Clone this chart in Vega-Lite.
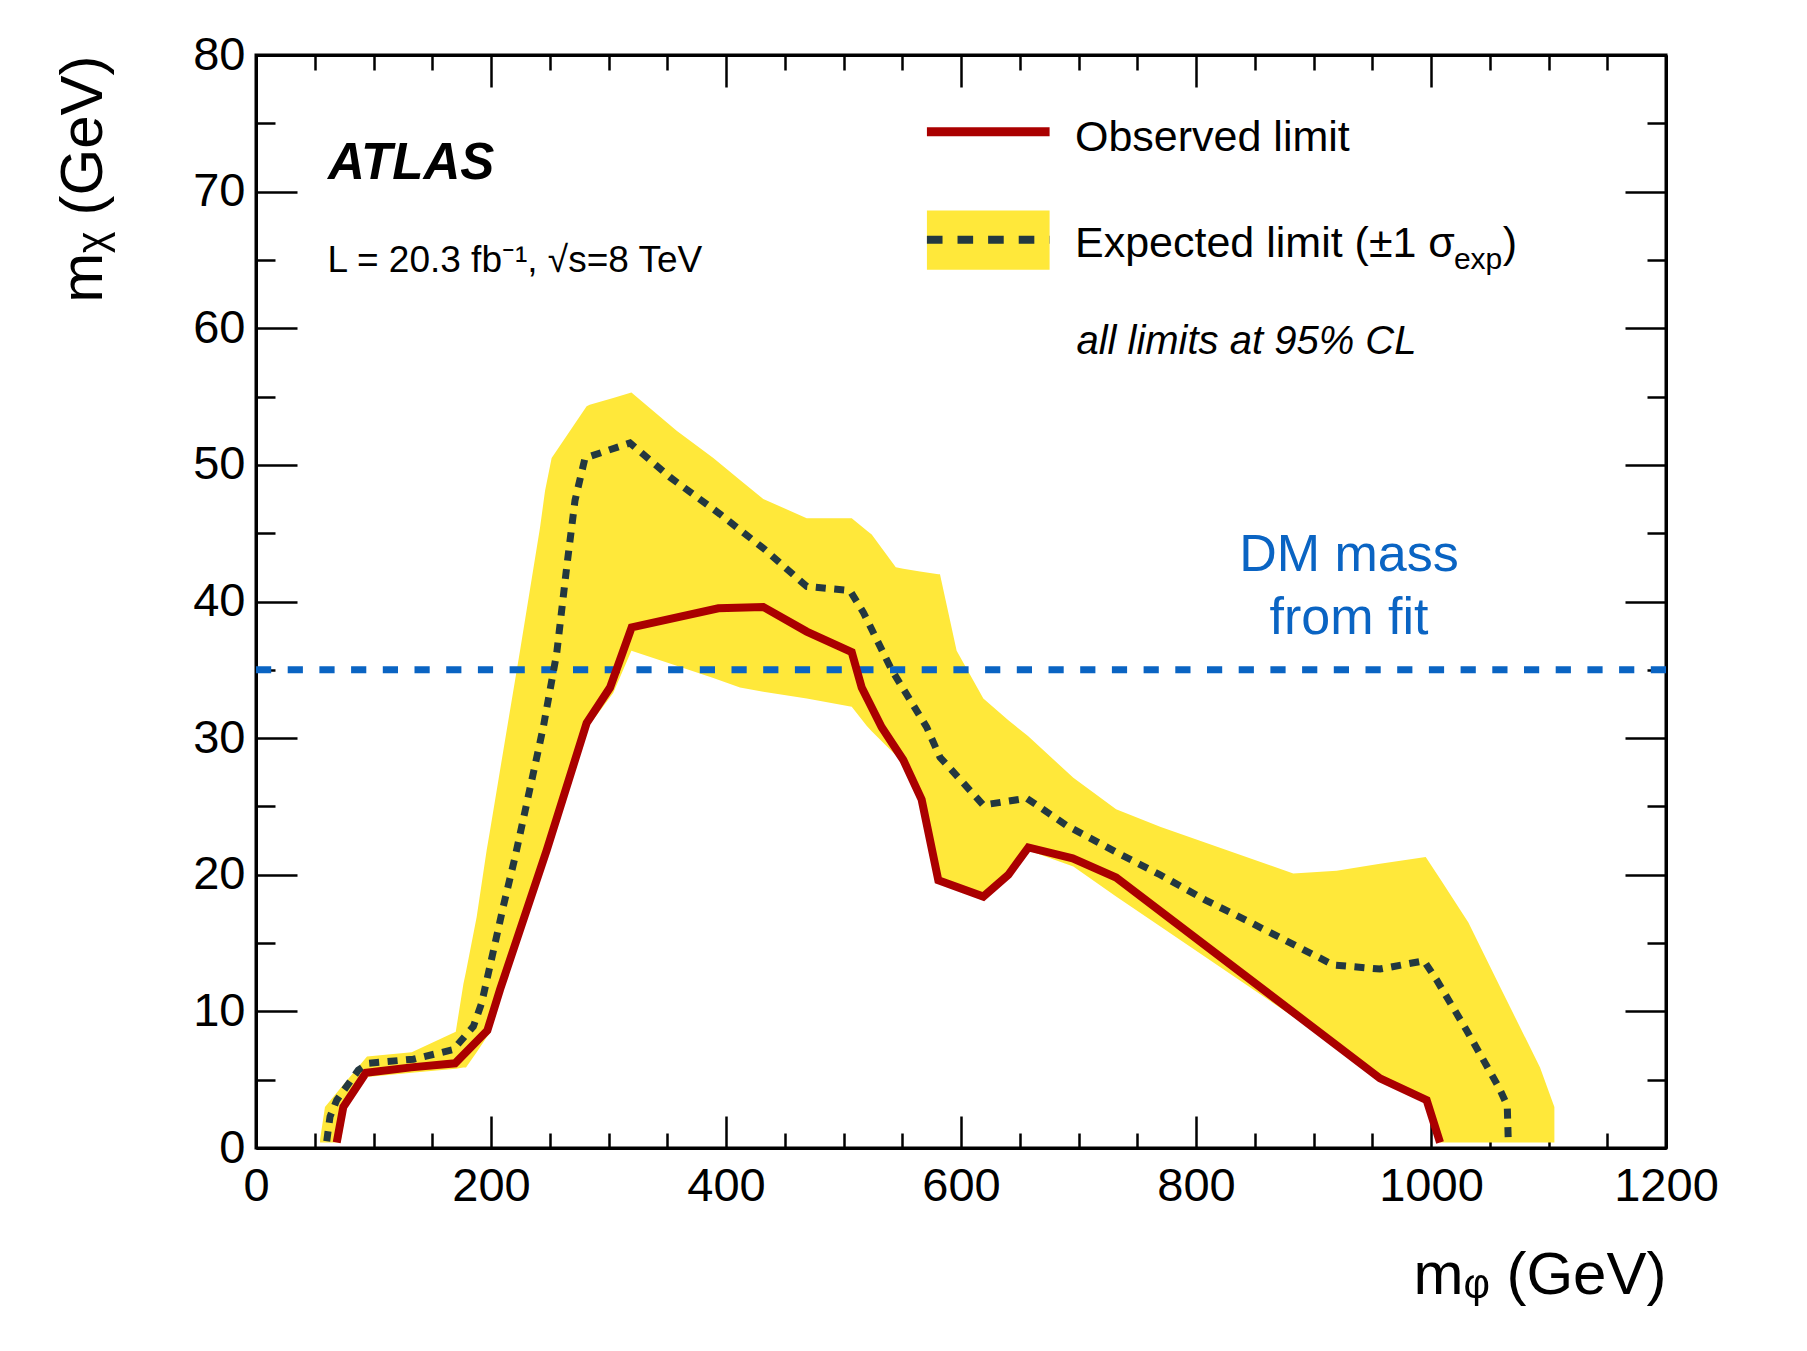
{
  "$schema": "https://vega.github.io/schema/vega-lite/v6.json",
  "width": 1410,
  "height": 1093,
  "autosize": {"type": "none"},
  "padding": {"left": 256, "top": 55, "right": 141, "bottom": 203},
  "background": "white",
  "config": {
    "view": {"stroke": "black", "strokeWidth": 3},
    "font": "Liberation Sans",
    "axis": {"grid": false, "labelFlush": false, "labelOverlap": false, "labelBound": false, "zindex": 1}
  },
  "datasets": {
    "band": [
      {"x": 54.5, "lo": 0.4, "hi": 0.6},
      {"x": 58.7, "lo": 0.4, "hi": 3.0},
      {"x": 72, "lo": 0.4, "hi": 4.4},
      {"x": 77, "lo": 3.0, "hi": 4.9},
      {"x": 94.5, "lo": 5.2, "hi": 6.7},
      {"x": 132.5, "lo": 5.5, "hi": 7.0},
      {"x": 170, "lo": 5.8, "hi": 8.5},
      {"x": 176.5, "lo": 5.9, "hi": 12.0},
      {"x": 178.7, "lo": 5.9, "hi": 12.9},
      {"x": 187.8, "lo": 7.0, "hi": 16.9},
      {"x": 196.3, "lo": 8.1, "hi": 21.8},
      {"x": 199.1, "lo": 8.4, "hi": 23.2},
      {"x": 210.5, "lo": 11.6, "hi": 29.1},
      {"x": 224.7, "lo": 15.2, "hi": 36.4},
      {"x": 241.7, "lo": 19.6, "hi": 45.4},
      {"x": 246, "lo": 20.7, "hi": 48.1},
      {"x": 250.2, "lo": 21.8, "hi": 49.9},
      {"x": 251.6, "lo": 22.2, "hi": 50.5},
      {"x": 281.4, "lo": 30.3, "hi": 54.3},
      {"x": 284, "lo": 31.0, "hi": 54.4},
      {"x": 304, "lo": 33.3, "hi": 54.9},
      {"x": 319.5, "lo": 36.4, "hi": 55.3},
      {"x": 358, "lo": 35.3, "hi": 52.5},
      {"x": 389.2, "lo": 34.4, "hi": 50.5},
      {"x": 411.9, "lo": 33.7, "hi": 48.9},
      {"x": 431.7, "lo": 33.4, "hi": 47.5},
      {"x": 468.7, "lo": 32.9, "hi": 46.1},
      {"x": 507, "lo": 32.3, "hi": 46.1},
      {"x": 519.7, "lo": 30.9, "hi": 45.2},
      {"x": 524, "lo": 30.5, "hi": 44.9},
      {"x": 544.5, "lo": 28.75, "hi": 42.5},
      {"x": 550.9, "lo": 28.4, "hi": 42.4},
      {"x": 565.1, "lo": 25.3, "hi": 42.2},
      {"x": 580.7, "lo": 19.6, "hi": 42.0},
      {"x": 582.1, "lo": 19.6, "hi": 42.0},
      {"x": 596.3, "lo": 19.1, "hi": 36.4},
      {"x": 619, "lo": 18.4, "hi": 32.9},
      {"x": 640.3, "lo": 20.0, "hi": 31.3},
      {"x": 657, "lo": 21.8, "hi": 30.15},
      {"x": 695.6, "lo": 20.6, "hi": 27.1},
      {"x": 732, "lo": 18.4, "hi": 24.8},
      {"x": 770, "lo": 16.2, "hi": 23.5},
      {"x": 882.8, "lo": 9.6, "hi": 20.1},
      {"x": 919.7, "lo": 7.25, "hi": 20.3},
      {"x": 956.6, "lo": 4.9, "hi": 20.8},
      {"x": 995.5, "lo": 3.4, "hi": 21.3},
      {"x": 1007.7, "lo": 0.4, "hi": 19.7},
      {"x": 1031.8, "lo": 0.4, "hi": 16.5},
      {"x": 1058.7, "lo": 0.4, "hi": 11.8},
      {"x": 1092.8, "lo": 0.4, "hi": 5.9},
      {"x": 1105, "lo": 0.4, "hi": 3.0}
    ],
    "observed": [
      {"x": 68.7, "y": 0.4}, {"x": 74.3, "y": 3.0}, {"x": 93.6, "y": 5.5}, {"x": 132, "y": 5.9},
      {"x": 169.4, "y": 6.2}, {"x": 196.9, "y": 8.6}, {"x": 207.7, "y": 11.6}, {"x": 247.4, "y": 21.8},
      {"x": 281.4, "y": 31.1}, {"x": 301.3, "y": 33.7}, {"x": 319.7, "y": 38.1}, {"x": 393.5, "y": 39.5},
      {"x": 431.7, "y": 39.6}, {"x": 468.7, "y": 37.8}, {"x": 507, "y": 36.3}, {"x": 515.5, "y": 33.7},
      {"x": 532.5, "y": 30.8}, {"x": 550.9, "y": 28.4}, {"x": 566.5, "y": 25.5}, {"x": 580.7, "y": 19.6},
      {"x": 619, "y": 18.4}, {"x": 640.3, "y": 20.0}, {"x": 657.3, "y": 22.0}, {"x": 695, "y": 21.2},
      {"x": 732, "y": 19.8}, {"x": 956.6, "y": 5.1}, {"x": 996.3, "y": 3.5}, {"x": 1007.7, "y": 0.4}
    ],
    "expected": [
      {"x": 60.2, "y": 0.5}, {"x": 63, "y": 2.3}, {"x": 68.7, "y": 3.5}, {"x": 87.1, "y": 5.7},
      {"x": 95.6, "y": 6.2}, {"x": 133.9, "y": 6.5}, {"x": 167.9, "y": 7.2}, {"x": 185, "y": 8.9},
      {"x": 192, "y": 10.6}, {"x": 199.1, "y": 13.3}, {"x": 210.5, "y": 17.7}, {"x": 220.5, "y": 21.3},
      {"x": 244.5, "y": 30.8}, {"x": 255.9, "y": 36.2}, {"x": 264.4, "y": 42.5}, {"x": 271.5, "y": 47.4},
      {"x": 280, "y": 50.5}, {"x": 318.3, "y": 51.6}, {"x": 352.3, "y": 49.1}, {"x": 394.9, "y": 46.4},
      {"x": 431.7, "y": 43.9}, {"x": 468.7, "y": 41.1}, {"x": 505.5, "y": 40.8}, {"x": 516.9, "y": 39.2},
      {"x": 541, "y": 35.0}, {"x": 570.8, "y": 30.8}, {"x": 582.1, "y": 28.6}, {"x": 619, "y": 25.1},
      {"x": 655.9, "y": 25.6}, {"x": 690, "y": 23.6}, {"x": 731, "y": 21.7}, {"x": 769.4, "y": 20.0},
      {"x": 809, "y": 18.1}, {"x": 848.8, "y": 16.4}, {"x": 916.9, "y": 13.4}, {"x": 956.6, "y": 13.1},
      {"x": 994, "y": 13.7}, {"x": 1004.8, "y": 12.3}, {"x": 1030.4, "y": 8.6}, {"x": 1058, "y": 4.4},
      {"x": 1064.9, "y": 3.1}, {"x": 1065.8, "y": 0.4}
    ]
  },
  "layer": [
    {
      "data": {"name": "band"},
      "mark": {"type": "area", "color": "#ffe83a", "opacity": 1},
      "encoding": {
        "x": {
          "field": "x", "type": "quantitative",
          "scale": {"domain": [0, 1200], "nice": false, "zero": false},
          "axis": {
            "orient": "bottom",
            "values": [0, 50, 100, 150, 200, 250, 300, 350, 400, 450, 500, 550, 600, 650, 700, 750, 800, 850, 900, 950, 1000, 1050, 1100, 1150, 1200],
            "labelExpr": "datum.value % 200 === 0 ? datum.label : ''",
            "format": "d",
            "tickSize": {"condition": {"test": "datum.value % 200 === 0", "value": -32}, "value": -15},
            "tickWidth": 2.5, "tickColor": "black",
            "domain": true, "domainColor": "black", "domainWidth": 3,
            "labelFontSize": 47, "labelColor": "black", "labelPadding": 47,
            "title": "mᵩ (GeV)", "titleFontSize": 60, "titleFontWeight": "normal", "titleColor": "black",
            "titleAlign": "right", "titleBaseline": "alphabetic", "titleX": 1410, "titleY": 145, "titleAngle": 0
          }
        },
        "y": {
          "field": "lo", "type": "quantitative",
          "scale": {"domain": [0, 80], "nice": false, "zero": false},
          "axis": {
            "orient": "left",
            "values": [0, 5, 10, 15, 20, 25, 30, 35, 40, 45, 50, 55, 60, 65, 70, 75, 80],
            "labelExpr": "datum.value % 10 === 0 ? datum.label : ''",
            "format": "d",
            "tickSize": {"condition": {"test": "datum.value % 10 === 0", "value": -41}, "value": -19},
            "tickWidth": 2.5, "tickColor": "black",
            "domain": true, "domainColor": "black", "domainWidth": 3,
            "labelFontSize": 47, "labelColor": "black", "labelPadding": 52,
            "title": "mᵪ (GeV)", "titleFontSize": 60, "titleFontWeight": "normal", "titleColor": "black",
            "titleAngle": 270, "titleAlign": "right", "titleBaseline": "alphabetic", "titleX": -155, "titleY": 0
          }
        },
        "y2": {"field": "hi"}
      }
    },
    {
      "data": {"values": [{}]},
      "mark": {"type": "rule", "color": "#0a64c3", "strokeWidth": 7, "strokeDash": [15.2, 16.5]},
      "encoding": {
        "x": {"datum": 0, "type": "quantitative", "axis": null},
        "x2": {"datum": 1200},
        "y": {"datum": 35, "type": "quantitative", "axis": null}
      }
    },
    {
      "data": {"name": "expected"},
      "mark": {"type": "line", "color": "#233840", "strokeWidth": 7, "strokeDash": [10, 8.5]},
      "encoding": {
        "x": {
          "field": "x", "type": "quantitative",
          "scale": {"domain": [0, 1200], "nice": false, "zero": false},
          "axis": {
            "orient": "top",
            "values": [0, 50, 100, 150, 200, 250, 300, 350, 400, 450, 500, 550, 600, 650, 700, 750, 800, 850, 900, 950, 1000, 1050, 1100, 1150, 1200],
            "labels": false,
            "tickSize": {"condition": {"test": "datum.value % 200 === 0", "value": -32}, "value": -15},
            "tickWidth": 2.5, "tickColor": "black",
            "domain": true, "domainColor": "black", "domainWidth": 3,
            "title": null
          }
        },
        "y": {
          "field": "y", "type": "quantitative",
          "scale": {"domain": [0, 80], "nice": false, "zero": false},
          "axis": {
            "orient": "right",
            "values": [0, 5, 10, 15, 20, 25, 30, 35, 40, 45, 50, 55, 60, 65, 70, 75, 80],
            "labels": false,
            "tickSize": {"condition": {"test": "datum.value % 10 === 0", "value": -41}, "value": -19},
            "tickWidth": 2.5, "tickColor": "black",
            "domain": true, "domainColor": "black", "domainWidth": 3,
            "title": null
          }
        }
      }
    },
    {
      "data": {"name": "observed"},
      "mark": {"type": "line", "color": "#aa0000", "strokeWidth": 8},
      "encoding": {
        "x": {"field": "x", "type": "quantitative", "axis": null},
        "y": {"field": "y", "type": "quantitative", "axis": null}
      }
    },
    {
      "data": {"values": [{}]},
      "mark": {"type": "rect", "color": "#ffe83a"},
      "encoding": {
        "x": {"datum": 571, "type": "quantitative", "axis": null},
        "x2": {"datum": 675.4},
        "y": {"datum": 64.28, "type": "quantitative", "axis": null},
        "y2": {"datum": 68.62}
      }
    },
    {
      "data": {"values": [{}]},
      "mark": {"type": "rule", "color": "#233840", "strokeWidth": 8, "strokeDash": [15.6, 15]},
      "encoding": {
        "x": {"datum": 571, "type": "quantitative", "axis": null},
        "x2": {"datum": 675.4},
        "y": {"datum": 66.47, "type": "quantitative", "axis": null}
      }
    },
    {
      "data": {"values": [{}]},
      "mark": {"type": "rule", "color": "#aa0000", "strokeWidth": 9},
      "encoding": {
        "x": {"datum": 571, "type": "quantitative", "axis": null},
        "x2": {"datum": 675.4},
        "y": {"datum": 74.38, "type": "quantitative", "axis": null}
      }
    },
    {
      "data": {"values": [{}]},
      "mark": {"type": "text", "align": "left", "baseline": "alphabetic", "fontSize": 43, "color": "black", "font": "Liberation Sans"},
      "encoding": {
        "x": {"datum": 697, "type": "quantitative", "axis": null},
        "y": {"datum": 72.96, "type": "quantitative", "axis": null},
        "text": {"value": "Observed limit"}
      }
    },
    {
      "data": {"values": [{}]},
      "mark": {"type": "text", "align": "left", "baseline": "alphabetic", "fontSize": 43, "color": "black", "font": "Liberation Sans"},
      "encoding": {
        "x": {"datum": 697, "type": "quantitative", "axis": null},
        "y": {"datum": 65.2, "type": "quantitative", "axis": null},
        "text": {"value": "Expected limit (±1 σ"}
      }
    },
    {
      "data": {"values": [{}]},
      "mark": {"type": "text", "align": "left", "baseline": "alphabetic", "fontSize": 30, "color": "black", "font": "Liberation Sans"},
      "encoding": {
        "x": {"datum": 1019.5, "type": "quantitative", "axis": null},
        "y": {"datum": 64.35, "type": "quantitative", "axis": null},
        "text": {"value": "exp"}
      }
    },
    {
      "data": {"values": [{}]},
      "mark": {"type": "text", "align": "left", "baseline": "alphabetic", "fontSize": 43, "color": "black", "font": "Liberation Sans"},
      "encoding": {
        "x": {"datum": 1061, "type": "quantitative", "axis": null},
        "y": {"datum": 65.2, "type": "quantitative", "axis": null},
        "text": {"value": ")"}
      }
    },
    {
      "data": {"values": [{}]},
      "mark": {"type": "text", "align": "left", "baseline": "alphabetic", "fontSize": 40, "fontStyle": "italic", "color": "black", "font": "Liberation Sans"},
      "encoding": {
        "x": {"datum": 698.2, "type": "quantitative", "axis": null},
        "y": {"datum": 58.13, "type": "quantitative", "axis": null},
        "text": {"value": "all limits at 95% CL"}
      }
    },
    {
      "data": {"values": [{}]},
      "mark": {"type": "text", "align": "left", "baseline": "alphabetic", "fontSize": 51, "fontStyle": "italic", "fontWeight": "bold", "color": "black", "font": "Liberation Sans"},
      "encoding": {
        "x": {"datum": 61.3, "type": "quantitative", "axis": null},
        "y": {"datum": 70.94, "type": "quantitative", "axis": null},
        "text": {"value": "ATLAS"}
      }
    },
    {
      "data": {"values": [{}]},
      "mark": {"type": "text", "align": "left", "baseline": "alphabetic", "fontSize": 37, "color": "black", "font": "Liberation Sans"},
      "encoding": {
        "x": {"datum": 60.8, "type": "quantitative", "axis": null},
        "y": {"datum": 64.1, "type": "quantitative", "axis": null},
        "text": {"value": "L = 20.3 fb⁻¹, √s=8 TeV"}
      }
    },
    {
      "data": {"values": [{}]},
      "mark": {"type": "text", "align": "center", "baseline": "alphabetic", "fontSize": 52, "color": "#0a64c3", "font": "Liberation Sans"},
      "encoding": {
        "x": {"datum": 930.2, "type": "quantitative", "axis": null},
        "y": {"datum": 42.23, "type": "quantitative", "axis": null},
        "text": {"value": "DM mass"}
      }
    },
    {
      "data": {"values": [{}]},
      "mark": {"type": "text", "align": "center", "baseline": "alphabetic", "fontSize": 52, "color": "#0a64c3", "font": "Liberation Sans"},
      "encoding": {
        "x": {"datum": 930.2, "type": "quantitative", "axis": null},
        "y": {"datum": 37.6, "type": "quantitative", "axis": null},
        "text": {"value": "from fit"}
      }
    }
  ],
  "resolve": {"axis": {"x": "independent", "y": "independent"}}
}
